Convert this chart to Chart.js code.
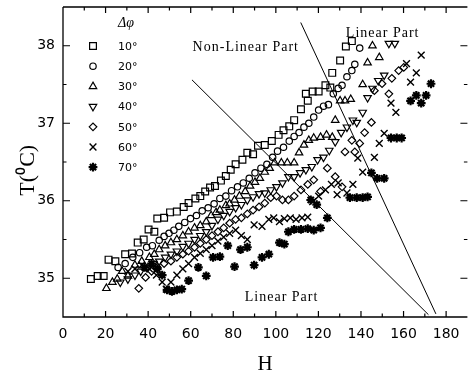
<!DOCTYPE html>
<html><head><meta charset="utf-8">
<script src="https://cdn.jsdelivr.net/npm/chart.js@4/dist/chart.umd.min.js"></script>
<style>html,body{margin:0;padding:0;background:#fff}</style>
</head><body>
<canvas id="c" width="474" height="379"></canvas>
<script>
// ---- data ----
const seriesLabels = ['10°','20°','30°','40°','50°','60°','70°'];
const xTicks = [0,20,40,60,80,100,120,140,160,180];
const yTicks = [35,36,37,38];

const H10 = [13.1,16.3,19.1,21.4,24.6,29.2,32.4,35.1,37.9,40.2,42.9,44.3,47.5,50.3,53.5,56.7,59.0,62.2,64.5,66.8,69.1,71.4,74.2,76.5,78.8,81.1,84.3,86.6,89.3,91.6,94.8,98.1,101.3,103.6,106.3,108.6,111.8,114.1,115.0,117.3,120.1,123.3,125.6,126.5,130.2,132.9,135.7];
const T10 = [34.99,35.03,35.03,35.24,35.22,35.31,35.32,35.46,35.50,35.63,35.60,35.77,35.78,35.85,35.86,35.92,35.97,36.03,36.06,36.12,36.17,36.19,36.26,36.32,36.40,36.47,36.53,36.62,36.60,36.71,36.72,36.77,36.85,36.91,36.96,37.04,37.18,37.38,37.29,37.41,37.41,37.49,37.46,37.65,37.81,37.99,38.06];

const H20 = [25.9,29.2,32.8,36.0,39.3,42.0,45.2,47.5,49.8,52.1,54.4,57.2,59.9,62.7,65.4,68.2,71.0,73.7,76.5,79.2,82.0,84.7,87.5,90.2,93.0,95.8,98.5,100.8,103.6,106.3,108.6,110.9,113.2,115.5,117.8,120.1,122.4,124.7,127.0,129.3,131.1,133.4,135.7,137.1,139.4];
const T20 = [35.14,35.19,35.27,35.33,35.40,35.42,35.49,35.54,35.58,35.62,35.67,35.72,35.77,35.81,35.87,35.91,35.96,36.03,36.06,36.13,36.18,36.23,36.29,36.36,36.42,36.47,36.56,36.64,36.69,36.77,36.83,36.88,36.95,37.00,37.08,37.17,37.22,37.24,37.38,37.45,37.49,37.60,37.68,37.76,37.97];

const H30 = [20.4,23.2,25.5,27.8,30.5,33.8,37.0,40.6,42.9,45.2,48.0,50.7,53.5,56.3,59.0,61.8,64.5,67.3,69.6,71.9,73.7,76.5,78.3,80.6,82.9,85.6,87.9,90.2,92.5,94.8,97.1,99.4,102.6,105.4,108.6,110.9,113.2,115.5,117.8,121.0,123.8,126.5,127.9,130.2,132.5,135.2,140.8,143.1,145.4,148.6];
const T30 = [34.87,34.95,34.99,35.09,35.03,35.17,35.22,35.27,35.31,35.37,35.42,35.46,35.50,35.55,35.60,35.65,35.68,35.73,35.81,35.85,35.88,35.94,35.96,36.01,36.06,36.12,36.19,36.24,36.29,36.37,36.42,36.49,36.49,36.49,36.49,36.62,36.72,36.78,36.81,36.82,36.85,36.82,37.04,37.29,37.29,37.31,37.50,37.78,38.00,37.85];

const H40 = [26.9,30.5,33.8,36.5,39.7,42.5,45.2,48.0,50.7,53.5,56.3,59.0,61.8,64.5,67.3,70.0,72.8,75.5,78.3,81.1,83.8,86.6,89.3,92.1,94.8,97.6,100.3,103.1,105.9,108.6,111.4,114.1,116.9,119.6,122.4,125.1,127.9,130.7,133.4,136.2,138.0,140.8,143.1,145.4,148.1,150.9,153.1,155.9];
const T40 = [34.95,34.99,35.04,35.09,35.14,35.19,35.22,35.27,35.31,35.35,35.41,35.45,35.50,35.55,35.60,35.68,35.76,35.81,35.86,35.91,35.95,36.01,36.05,36.09,36.10,36.14,36.18,36.23,36.31,36.31,36.36,36.40,36.44,36.53,36.56,36.65,36.76,36.88,36.95,37.04,37.01,37.14,37.33,37.45,37.55,37.62,38.03,38.03];

const H50 = [35.6,38.8,41.6,44.3,47.5,50.7,53.5,56.3,59.0,61.8,64.5,67.3,70.0,72.8,75.5,78.3,81.1,83.8,86.6,89.3,92.1,94.8,97.6,100.3,103.1,105.9,108.6,111.8,115.0,117.8,121.0,124.2,127.9,131.1,132.5,135.7,137.1,139.4,141.7,144.9,146.3,149.9,153.1,154.5,157.7,160.1];
const T50 = [34.87,35.01,35.09,35.14,35.19,35.22,35.27,35.31,35.35,35.40,35.45,35.50,35.55,35.60,35.65,35.71,35.76,35.78,35.83,35.88,35.92,35.97,36.04,36.06,36.01,36.01,36.06,36.14,36.21,36.27,36.12,36.42,36.31,36.18,36.63,36.78,36.63,36.74,36.88,37.01,37.42,37.51,37.38,37.58,37.68,37.72];

const H60 = [30.5,33.8,37.0,40.6,43.9,46.6,48.5,50.7,53.5,56.3,59.0,61.8,64.5,67.3,70.0,72.8,75.5,78.3,81.1,83.8,86.6,89.8,93.5,96.7,99.0,101.7,104.0,106.8,109.5,112.3,115.0,117.3,120.1,123.3,126.1,128.8,129.3,133.4,136.2,138.5,140.8,146.3,148.6,150.9,154.1,156.4,161.4,163.3,166.0,168.3];
const T60 = [35.09,35.12,35.17,35.12,35.04,34.95,34.86,34.95,35.04,35.12,35.19,35.27,35.32,35.37,35.42,35.48,35.53,35.58,35.62,35.55,35.50,35.69,35.67,35.76,35.78,35.73,35.77,35.78,35.76,35.78,35.79,35.99,36.06,36.14,36.21,36.08,36.23,36.10,36.21,36.55,36.37,36.56,36.74,36.87,37.26,37.14,37.77,37.53,37.65,37.88];

const H70 = [38.3,41.6,44.3,46.6,48.9,51.2,53.5,55.8,59.0,63.6,67.3,70.5,73.7,77.4,80.6,83.4,86.6,89.8,93.5,96.7,101.7,104.0,105.9,108.6,111.8,115.0,117.8,121.0,116.4,119.2,124.2,134.8,138.0,140.8,143.1,144.9,147.6,150.9,154.1,156.8,159.1,163.3,166.0,168.3,170.6,172.9];
const T70 = [35.14,35.19,35.12,35.04,34.85,34.83,34.85,34.86,34.97,35.14,35.03,35.27,35.28,35.42,35.15,35.37,35.40,35.17,35.27,35.31,35.46,35.44,35.60,35.63,35.63,35.64,35.62,35.65,36.01,35.95,35.78,36.04,36.04,36.04,36.05,36.36,36.29,36.29,36.81,36.81,36.81,37.29,37.36,37.26,37.36,37.51];

// boundary lines (end points in data units)
const line1H = [60.6, 171.7];
const line1T = [37.56, 34.53];
const line2H = [111.7, 175.2];
const line2T = [38.30, 34.54];

// ---- styles ----
const markerStyles = [
  {pointStyle:'rect', radius:4.8, rotation:0, borderWidth:1.2},
  {pointStyle:'circle', radius:3.2, rotation:0, borderWidth:1.2},
  {pointStyle:'triangle', radius:4.3, rotation:0, borderWidth:1.2},
  {pointStyle:'triangle', radius:4.3, rotation:180, borderWidth:1.2},
  {pointStyle:'rectRot', radius:3.8, rotation:0, borderWidth:1.2},
  {pointStyle:'crossRot', radius:4.8, rotation:0, borderWidth:1.4},
  {pointStyle:'star', radius:4.4, rotation:0, borderWidth:2.2}
];
const seriesH = [H10,H20,H30,H40,H50,H60,H70];
const seriesT = [T10,T20,T30,T40,T50,T60,T70];

const datasets = seriesH.map((hs, k) => {
  const m = markerStyles[k];
  return {
    label: seriesLabels[k],
    data: hs.map((h, i) => ({x: h, y: seriesT[k][i]})),
    pointStyle: m.pointStyle,
    pointRadius: m.radius,
    pointRotation: m.rotation,
    pointBorderWidth: m.borderWidth,
    pointBorderColor: '#000',
    pointBackgroundColor: 'rgba(0,0,0,0)',
    borderColor: '#000',
    backgroundColor: 'rgba(0,0,0,0)',
    showLine: false,
    order: 1
  };
});
[[line1H, line1T], [line2H, line2T]].forEach(([hs, ts]) => {
  datasets.push({
    label: '', isBoundary: true,
    data: hs.map((h, i) => ({x: h, y: ts[i]})),
    showLine: true, pointRadius: 0, borderColor: '#000', borderWidth: 1,
    backgroundColor: 'rgba(0,0,0,0)', order: 2
  });
});

const textLabels = [
  {text:'Non-Linear Part', x:60.9, y:37.98},
  {text:'Linear Part', x:132.9, y:38.16},
  {text:'Linear Part', x:85.4, y:34.76}
];

const legendLayout = {titleX:118, titleY:23, symX:93, textX:118, y0:46, dy:20.2};

function drawMarker(ctx, m, x, y) {
  ctx.save();
  ctx.strokeStyle = '#000';
  ctx.fillStyle = 'rgba(0,0,0,0)';
  ctx.lineWidth = m.borderWidth;
  if (Chart.helpers && Chart.helpers.drawPoint) {
    Chart.helpers.drawPoint(ctx, {pointStyle: m.pointStyle, radius: m.radius, rotation: m.rotation, borderWidth: m.borderWidth}, x, y);
  }
  ctx.restore();
}

const framePlugin = {
  id: 'frame',
  afterDraw(chart) {
    const ctx = chart.ctx;
    const a = chart.chartArea;
    const xs = chart.scales.x, ys = chart.scales.y;
    ctx.save();
    ctx.strokeStyle = '#000';
    ctx.lineWidth = 1.3;
    ctx.beginPath();
    ctx.moveTo(a.left, a.top); ctx.lineTo(a.left, a.bottom); ctx.lineTo(a.right, a.bottom);
    ctx.moveTo(a.left, a.top); ctx.lineTo(a.right, a.top);
    ctx.stroke();
    ctx.lineWidth = 1.2;
    ctx.beginPath();
    for (let v = 10; v <= 180; v += 10) {
      const px = xs.getPixelForValue(v);
      const len = v % 20 === 0 ? 6 : 3.5;
      ctx.moveTo(px, a.bottom); ctx.lineTo(px, a.bottom - len);
      ctx.moveTo(px, a.top); ctx.lineTo(px, a.top + len);
    }
    for (let v = 35; v <= 38.01; v += 0.5) {
      const py = ys.getPixelForValue(v);
      const len = Math.abs(v - Math.round(v)) < 0.01 ? 7 : 3.5;
      ctx.moveTo(a.left, py); ctx.lineTo(a.left + len, py);
      ctx.moveTo(a.right, py); ctx.lineTo(a.right - len, py);
    }
    ctx.stroke();

    // text labels
    ctx.fillStyle = '#000';
    ctx.font = '14px "Liberation Serif"';
    ctx.textAlign = 'left';
    ctx.textBaseline = 'middle';
    try { ctx.letterSpacing = '1px'; } catch(e) {}
    textLabels.forEach(t => {
      ctx.fillText(t.text, xs.getPixelForValue(t.x), ys.getPixelForValue(t.y));
    });
    try { ctx.letterSpacing = '0px'; } catch(e) {}

    // legend
    const L = legendLayout;
    ctx.font = 'italic 14px "Liberation Serif"';
    ctx.fillText('Δφ', L.titleX, L.titleY);
    ctx.font = '11px "DejaVu Sans"';
    seriesLabels.forEach((lab, k) => {
      const y = L.y0 + L.dy * k;
      drawMarker(ctx, markerStyles[k], L.symX, y);
      ctx.fillStyle = '#000';
      ctx.fillText(lab, L.textX, y + 1);
    });
    ctx.restore();
  }
};

new Chart(document.getElementById('c'), {
  type: 'scatter',
  data: {datasets},
  options: {
    responsive: false,
    animation: false,
    layout: {padding: {left: 0, right: 0, top: 7, bottom: 0}},
    plugins: {legend: {display: false}, tooltip: {enabled: false}},
    scales: {
      x: {
        type: 'linear', min: 0, max: 190,
        afterFit(s) { s.height = 62; s.paddingLeft = 0; s.paddingRight = 0; },
        afterBuildTicks(s) { s.ticks = xTicks.map(v => ({value: v})); },
        grid: {display: false, drawTicks: false},
        border: {display: false},
        ticks: {color: '#000', padding: 9, font: {family: 'DejaVu Sans', size: 14}},
        title: {display: true, text: 'H', color: '#000', font: {family: 'Liberation Serif', size: 21}, padding: {top: 0, bottom: 2}}
      },
      y: {
        type: 'linear', min: 34.5, max: 38.5,
        afterFit(s) { s.width = 63; s.paddingTop = 0; s.paddingBottom = 0; },
        afterBuildTicks(s) { s.ticks = yTicks.map(v => ({value: v})); },
        grid: {display: false, drawTicks: false},
        border: {display: false},
        ticks: {color: '#000', padding: 8, font: {family: 'DejaVu Sans', size: 14}, callback: v => String(v)},
        title: {display: true, text: 'T(⁰C)   ', color: '#000', font: {family: 'Liberation Serif', size: 22}, padding: {top: 15, bottom: 0}}
      }
    }
  },
  plugins: [framePlugin]
});
</script>
</body></html>
